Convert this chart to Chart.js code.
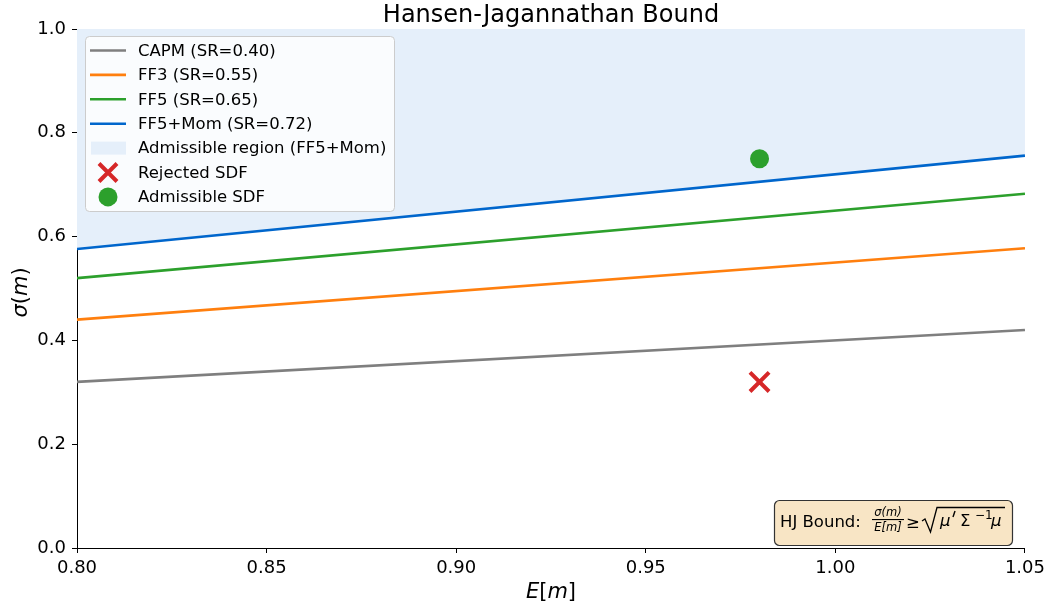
<!DOCTYPE html>
<html>
<head>
<meta charset="utf-8">
<script src="https://cdn.jsdelivr.net/npm/chart.js@4/dist/chart.umd.min.js"></script>
<style>
  html, body { margin: 0; padding: 0; background: #fff; }
  #wrap { width: 1050px; height: 609px; }
</style>
</head>
<body>
<div id="wrap"><canvas id="hj"></canvas></div>
<script>
// values
const expM = [0.80, 1.05];
const capm = [0.32, 0.42];
const ff3 = [0.44, 0.5775];
const ff5 = [0.52, 0.6825];
const ff5mom = [0.576, 0.756];
const rejectedSdf = [{ x: 0.98, y: 0.32 }];
const admissibleSdf = [{ x: 0.98, y: 0.75 }];
const xTicks = [0.80, 0.85, 0.90, 0.95, 1.00, 1.05];
const yTicks = [0.0, 0.2, 0.4, 0.6, 0.8, 1.0];

const FONT = "'DejaVu Sans', sans-serif";
const pts = (ys) => ys.map((y, i) => ({ x: expM[i], y }));

const lineDs = (label, ys, color) => ({
  type: "line",
  label,
  data: pts(ys),
  borderColor: color,
  borderWidth: 2.6,
  pointRadius: 0,
  fill: false,
  order: 1,
});

const legendItems = [
  { kind: "line", color: "#7f7f7f", text: "CAPM (SR=0.40)" },
  { kind: "line", color: "#ff7f0e", text: "FF3 (SR=0.55)" },
  { kind: "line", color: "#2ca02c", text: "FF5 (SR=0.65)" },
  { kind: "line", color: "#0066cc", text: "FF5+Mom (SR=0.72)" },
  { kind: "patch", color: "#e5effa", text: "Admissible region (FF5+Mom)" },
  { kind: "cross", color: "#d62728", text: "Rejected SDF" },
  { kind: "dot", color: "#2ca02c", text: "Admissible SDF" },
];

// title, axis titles, legend and the annotation box, matplotlib style
const decor = {
  id: "decor",
  afterDraw(chart) {
    const { ctx, chartArea: a } = chart;
    ctx.save();
    ctx.fillStyle = "#000";
    ctx.textBaseline = "alphabetic";

    // title
    ctx.font = `24px ${FONT}`;
    ctx.textAlign = "center";
    ctx.fillText("Hansen-Jagannathan Bound", (a.left + a.right) / 2, 22);

    const drawParts = (ps, xc, y, size) => {
      let w = 0;
      ps.forEach(([st, t]) => { ctx.font = `${st} ${size}px ${FONT}`; w += ctx.measureText(t).width; });
      let x = xc - w / 2;
      ctx.textAlign = "left";
      ps.forEach(([st, t]) => {
        ctx.font = `${st} ${size}px ${FONT}`;
        ctx.fillText(t, x, y);
        x += ctx.measureText(t).width;
      });
    };

    // x title  E[m]
    drawParts([["italic", "E"], ["normal", "["], ["italic", "m"], ["normal", "]"]],
      (a.left + a.right) / 2, 598, 21);

    // y title  σ(m)
    ctx.save();
    ctx.translate(27, (a.top + a.bottom) / 2 + 4);
    ctx.rotate(-Math.PI / 2);
    drawParts([["italic", "σ"], ["normal", "("], ["italic", "m"], ["normal", ")"]], 0, 0, 21);
    ctx.restore();

    // legend
    ctx.beginPath();
    ctx.roundRect(85.5, 36.5, 309, 175, 4);
    ctx.fillStyle = "rgba(255,255,255,0.8)";
    ctx.fill();
    ctx.strokeStyle = "#cccccc";
    ctx.lineWidth = 1;
    ctx.stroke();
    ctx.font = `16.5px ${FONT}`;
    ctx.textAlign = "left";
    ctx.textBaseline = "middle";
    legendItems.forEach((it, i) => {
      const y = 50.5 + i * 24.4;
      if (it.kind === "line") {
        ctx.strokeStyle = it.color;
        ctx.lineWidth = 2.6;
        ctx.beginPath();
        ctx.moveTo(90, y);
        ctx.lineTo(126, y);
        ctx.stroke();
      } else if (it.kind === "patch") {
        ctx.fillStyle = it.color;
        ctx.fillRect(91, y - 6.5, 35, 13);
      } else if (it.kind === "cross") {
        ctx.strokeStyle = it.color;
        ctx.lineWidth = 4;
        ctx.beginPath();
        ctx.moveTo(99, y - 9); ctx.lineTo(117, y + 9);
        ctx.moveTo(117, y - 9); ctx.lineTo(99, y + 9);
        ctx.stroke();
      } else {
        ctx.fillStyle = it.color;
        ctx.beginPath();
        ctx.arc(108, y, 9.5, 0, Math.PI * 2);
        ctx.fill();
      }
      ctx.fillStyle = "#000";
      ctx.fillText(it.text, 138, y + 1);
    });

    // annotation box
    ctx.beginPath();
    ctx.roundRect(774.5, 500.5, 238, 45, 5);
    ctx.fillStyle = "#f8e5c5";
    ctx.fill();
    ctx.strokeStyle = "#333";
    ctx.lineWidth = 1.2;
    ctx.stroke();
    ctx.fillStyle = "#000";
    ctx.textBaseline = "alphabetic";
    ctx.textAlign = "left";
    ctx.font = `16.5px ${FONT}`;
    ctx.fillText("HJ Bound:", 780, 527);
    // fraction
    ctx.font = `italic 11.5px ${FONT}`;
    ctx.textAlign = "center";
    ctx.fillText("σ(m)", 888, 516);
    ctx.fillText("E[m]", 888, 531);
    ctx.fillRect(872, 519, 32, 1.1);
    ctx.textAlign = "left";
    ctx.font = `16.5px ${FONT}`;
    ctx.fillText("≥", 906, 528);
    // radical
    ctx.strokeStyle = "#000";
    ctx.lineWidth = 1.3;
    ctx.beginPath();
    ctx.moveTo(922, 521);
    ctx.lineTo(925, 519);
    ctx.lineTo(930.5, 532);
    ctx.lineTo(937, 507.5);
    ctx.lineTo(1005, 507.5);
    ctx.stroke();
    ctx.font = `italic 16.5px ${FONT}`;
    ctx.fillText("μ", 940, 526);
    // prime
    ctx.lineWidth = 1.4;
    ctx.beginPath();
    ctx.moveTo(955, 511);
    ctx.lineTo(953, 517);
    ctx.stroke();
    ctx.font = `16.5px ${FONT}`;
    ctx.fillText("Σ", 960, 526);
    ctx.font = `12px ${FONT}`;
    ctx.fillText("−1", 975, 519);
    ctx.font = `italic 16.5px ${FONT}`;
    ctx.fillText("μ", 991, 526);
    ctx.restore();
  },
};

new Chart(document.getElementById("hj"), {
  type: "scatter",
  data: {
    datasets: [
      {
        type: "line",
        label: "Admissible region (FF5+Mom)",
        data: pts(ff5mom),
        borderWidth: 0,
        pointRadius: 0,
        backgroundColor: "#e5effa",
        fill: "end",
        order: 5,
      },
      lineDs("CAPM (SR=0.40)", capm, "#7f7f7f"),
      lineDs("FF3 (SR=0.55)", ff3, "#ff7f0e"),
      lineDs("FF5 (SR=0.65)", ff5, "#2ca02c"),
      lineDs("FF5+Mom (SR=0.72)", ff5mom, "#0066cc"),
      {
        label: "Rejected SDF",
        data: rejectedSdf,
        pointStyle: "crossRot",
        pointRadius: 13.5,
        borderWidth: 4,
        borderColor: "#d62728",
        order: 0,
      },
      {
        label: "Admissible SDF",
        data: admissibleSdf,
        pointStyle: "circle",
        pointRadius: 9.5,
        borderWidth: 0,
        backgroundColor: "#2ca02c",
        order: 0,
      },
    ],
  },
  options: {
    responsive: true,
    maintainAspectRatio: false,
    animation: false,
    layout: { padding: { top: 29, right: 25, left: 0, bottom: 0 } },
    plugins: { legend: { display: false }, tooltip: { enabled: false } },
    scales: {
      x: {
        type: "linear",
        min: 0.8,
        max: 1.05,
        afterBuildTicks: (s) => { s.ticks = xTicks.map((v) => ({ value: v })); },
        afterFit: (s) => { s.height = 61; },
        grid: { drawOnChartArea: false, drawTicks: true, tickLength: 5, color: "#000", tickWidth: 1 },
        border: { display: true, color: "#000", width: 1 },
        ticks: {
          color: "#000",
          font: { family: "DejaVu Sans", size: 18 },
          padding: 5,
          maxRotation: 0,
          callback: (v) => v.toFixed(2),
        },
      },
      y: {
        min: 0,
        max: 1,
        afterBuildTicks: (s) => { s.ticks = yTicks.map((v) => ({ value: v })); },
        afterFit: (s) => { s.width = 77; },
        grid: { drawOnChartArea: false, drawTicks: true, tickLength: 5, color: "#000", tickWidth: 1 },
        border: { display: true, color: "#000", width: 1 },
        ticks: {
          color: "#000",
          font: { family: "DejaVu Sans", size: 18 },
          padding: 6,
          callback: (v) => v.toFixed(1),
        },
      },
    },
  },
  plugins: [decor],
});
</script>
</body>
</html>
